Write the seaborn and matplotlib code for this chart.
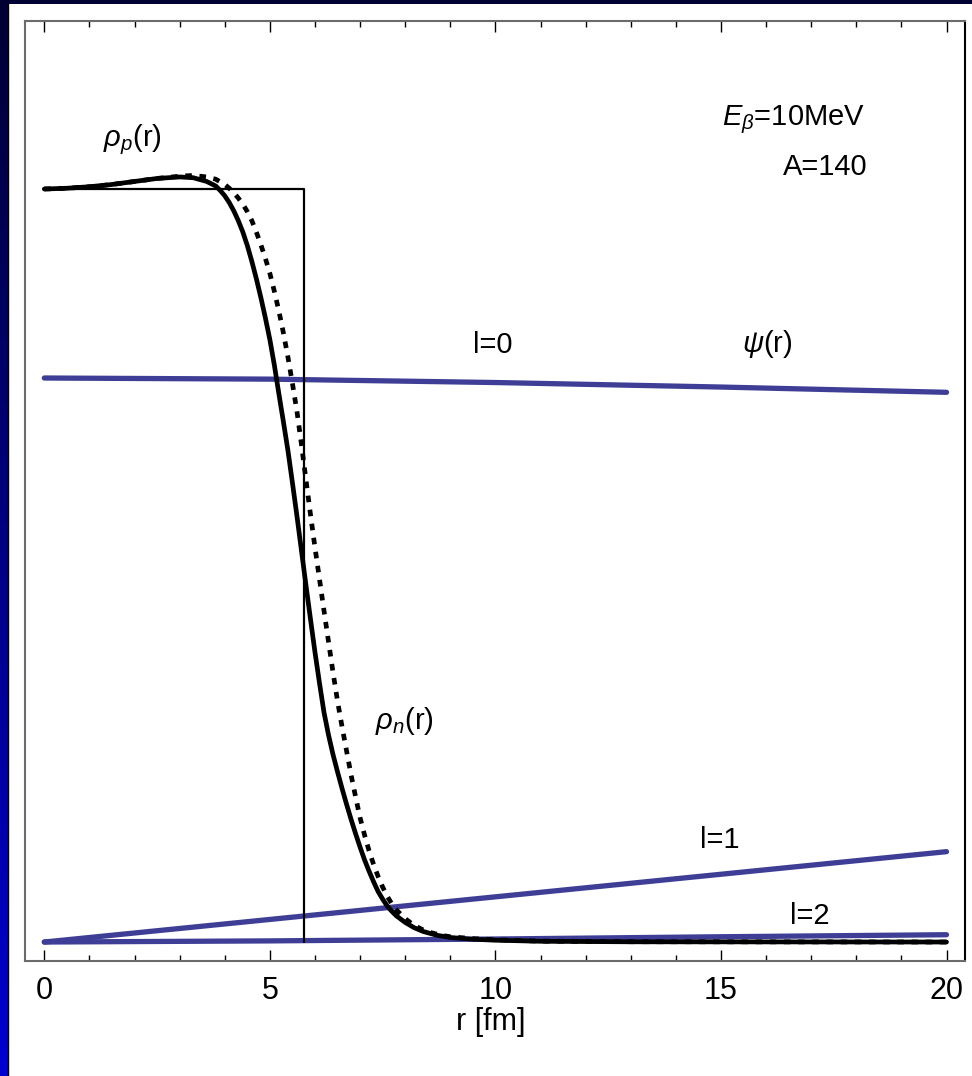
import numpy as np
import pandas as pd
import matplotlib
matplotlib.use("Agg")
import matplotlib.pyplot as plt
from matplotlib.patches import Rectangle
from matplotlib.ticker import MultipleLocator
import seaborn as sns

# ---------------- data ----------------
r_step = [0.0, 5.76, 5.76]
rho_step = [1.0, 1.0, 0.0]

r_p = [0.0, 0.5, 1.0, 1.5, 2.0, 2.5, 3.0, 3.3, 3.6, 3.8, 3.9, 4.0, 4.1, 4.2,
       4.3, 4.4, 4.5, 4.6, 4.7, 4.8, 4.9, 5.0, 5.1, 5.2, 5.3, 5.4, 5.5, 5.6,
       5.7, 5.8, 5.9, 6.0, 6.1, 6.2, 6.3, 6.4, 6.5, 6.6, 6.7, 6.8, 6.9, 7.0,
       7.1, 7.2, 7.3, 7.4, 7.5, 7.6, 7.7, 7.8, 8.0, 8.2, 8.4, 8.7, 9.0, 9.5,
       10.0, 11.0, 13.0, 20.0]
rho_p = [1.000, 1.001, 1.003, 1.006, 1.010, 1.014, 1.016, 1.015, 1.010, 1.004,
         0.998, 0.991, 0.982, 0.971, 0.958, 0.943, 0.925, 0.904, 0.881, 0.856,
         0.829, 0.800, 0.766, 0.728, 0.691, 0.653, 0.610, 0.566, 0.520, 0.474,
         0.429, 0.385, 0.344, 0.305, 0.275, 0.249, 0.226, 0.204, 0.183, 0.163,
         0.144, 0.126, 0.109, 0.094, 0.080, 0.067, 0.057, 0.048, 0.041, 0.035,
         0.026, 0.019, 0.014, 0.009, 0.006, 0.0037, 0.0024, 0.001, 0.0003, 0.0]

r_n = [0.0, 0.5, 1.0, 1.5, 2.0, 2.5, 3.0, 3.3, 3.6, 3.8, 4.0, 4.1, 4.2, 4.3,
       4.4, 4.5, 4.6, 4.7, 4.8, 4.9, 5.0, 5.1, 5.2, 5.3, 5.4, 5.5, 5.6, 5.7,
       5.8, 5.9, 6.0, 6.1, 6.2, 6.3, 6.4, 6.5, 6.6, 6.7, 6.8, 6.9, 7.0, 7.1,
       7.2, 7.3, 7.4, 7.5, 7.6, 7.7, 7.8, 8.0, 8.2, 8.4, 8.6, 8.8, 9.0, 9.5,
       10.0, 11.0, 13.0, 20.0]
rho_n = [1.000, 1.001, 1.003, 1.006, 1.010, 1.014, 1.017, 1.018, 1.016, 1.013,
         1.006, 1.001, 0.995, 0.988, 0.980, 0.970, 0.958, 0.943, 0.926, 0.908,
         0.888, 0.864, 0.838, 0.809, 0.777, 0.742, 0.705, 0.661, 0.614, 0.568,
         0.524, 0.482, 0.440, 0.399, 0.358, 0.320, 0.286, 0.254, 0.222, 0.193,
         0.165, 0.142, 0.121, 0.103, 0.087, 0.073, 0.061, 0.051, 0.043, 0.031,
         0.022, 0.016, 0.012, 0.009, 0.007, 0.0045, 0.003, 0.0012, 0.0004, 0.0]

r_psi = [0.0, 5.0, 10.0, 15.0, 20.0]
psi_l0 = [0.749, 0.7475, 0.743, 0.737, 0.730]
psi_l1 = [0.0, 0.030, 0.060, 0.090, 0.120]
psi_l2 = [0.0, 0.0015, 0.0040, 0.0070, 0.0097]

x_ticks = [0, 5, 10, 15, 20]
x_label = "r [fm]"

# ---------------- style ----------------
sns.set_style("white")
plt.rcParams['font.family'] = ['Liberation Sans', 'DejaVu Sans']
plt.rcParams['mathtext.fontset'] = 'custom'
plt.rcParams['mathtext.rm'] = 'Liberation Sans'
plt.rcParams['mathtext.it'] = 'Liberation Sans:italic'
plt.rcParams['mathtext.bf'] = 'Liberation Sans:bold'
plt.rcParams['text.color'] = 'black'
plt.rcParams['axes.labelcolor'] = 'black'
plt.rcParams['xtick.color'] = 'black'
plt.rcParams['xtick.labelcolor'] = 'black'

W, H = 972, 1076
fig = plt.figure(figsize=(W / 100, H / 100), dpi=100)

# background: blue gradient with white panel
ax_bg = fig.add_axes([0, 0, 1, 1])
grad = np.linspace(0, 1, 256).reshape(-1, 1)
cols = np.zeros((256, 1, 3))
cols[:, 0, 2] = 0.20 + 0.62 * grad[:, 0]
ax_bg.imshow(cols, extent=[0, 1, 0, 1], aspect='auto', origin='upper')
ax_bg.add_patch(Rectangle((9 / W, 0), 1, (H - 4) / H, color='white', lw=0))
ax_bg.plot([8 / W, 8 / W], [0, (H - 4) / H], color='black', lw=1.0)
ax_bg.set_xlim(0, 1)
ax_bg.set_ylim(0, 1)
ax_bg.set_axis_off()

ax = fig.add_axes([25 / W, 1 - 961 / H, 940 / W, 940 / H])
ax.set_facecolor('white')

blue = '#3e3e96'
sns.lineplot(x=r_psi, y=psi_l0, ax=ax, color=blue, lw=3.8, estimator=None, sort=False)
sns.lineplot(x=r_psi, y=psi_l1, ax=ax, color=blue, lw=3.8, estimator=None, sort=False)
sns.lineplot(x=r_psi, y=psi_l2, ax=ax, color=blue, lw=3.8, estimator=None, sort=False)
sns.lineplot(x=r_step, y=rho_step, ax=ax, color='black', lw=1.6, estimator=None, sort=False)
sns.lineplot(x=r_p, y=rho_p, ax=ax, color='black', lw=3.4, estimator=None, sort=False)
ln = sns.lineplot(x=r_n, y=rho_n, ax=ax, color='black', lw=3.4, estimator=None, sort=False)
ln.lines[-1].set_linestyle((0, (1.4, 1.6)))
ln.lines[-1].set_dash_capstyle('butt')
for line in ax.lines:
    line.set_solid_joinstyle('round')

ax.set_xlim(-0.428, 20.41)
ax.set_ylim(-0.0252, 1.2231)
ax.set_xticks(x_ticks)
ax.set_xticklabels([str(t) for t in x_ticks])
ax.xaxis.set_minor_locator(MultipleLocator(1))
ax.set_yticks([])
ax.tick_params(axis='x', which='both', direction='in', top=True, bottom=True,
               color='black', width=1.0, labelsize=22, pad=11)
ax.tick_params(axis='x', which='major', length=8)
ax.tick_params(axis='x', which='minor', length=4.3)
ax.set_xlabel(x_label, fontsize=22)
ax.xaxis.set_label_coords(0.495, -0.049)
ax.set_ylabel('')

for side in ['left', 'top', 'bottom']:
    ax.spines[side].set_color('#6b6b6b')
    ax.spines[side].set_linewidth(1.5)
ax.spines['right'].set_color('black')
ax.spines['right'].set_linewidth(1.5)

fs = 21
ax.text(1.30, 1.057, r'$\rho_p$(r)', fontsize=fs, ha='left', va='baseline')
ax.text(18.2, 1.085, r'$E_\beta$=10MeV', fontsize=fs, ha='right', va='baseline')
ax.text(18.24, 1.0186, 'A=140', fontsize=fs, ha='right', va='baseline')
ax.text(9.50, 0.782, 'l=0', fontsize=fs, ha='left', va='baseline')
ax.text(15.47, 0.7835, r'$\psi$(r)', fontsize=fs, ha='left', va='baseline')
ax.text(7.33, 0.283, r'$\rho_n$(r)', fontsize=fs, ha='left', va='baseline')
ax.text(14.54, 0.125, 'l=1', fontsize=fs, ha='left', va='baseline')
ax.text(16.53, 0.024, 'l=2', fontsize=fs, ha='left', va='baseline')

fig.savefig('out.png', dpi=100)
